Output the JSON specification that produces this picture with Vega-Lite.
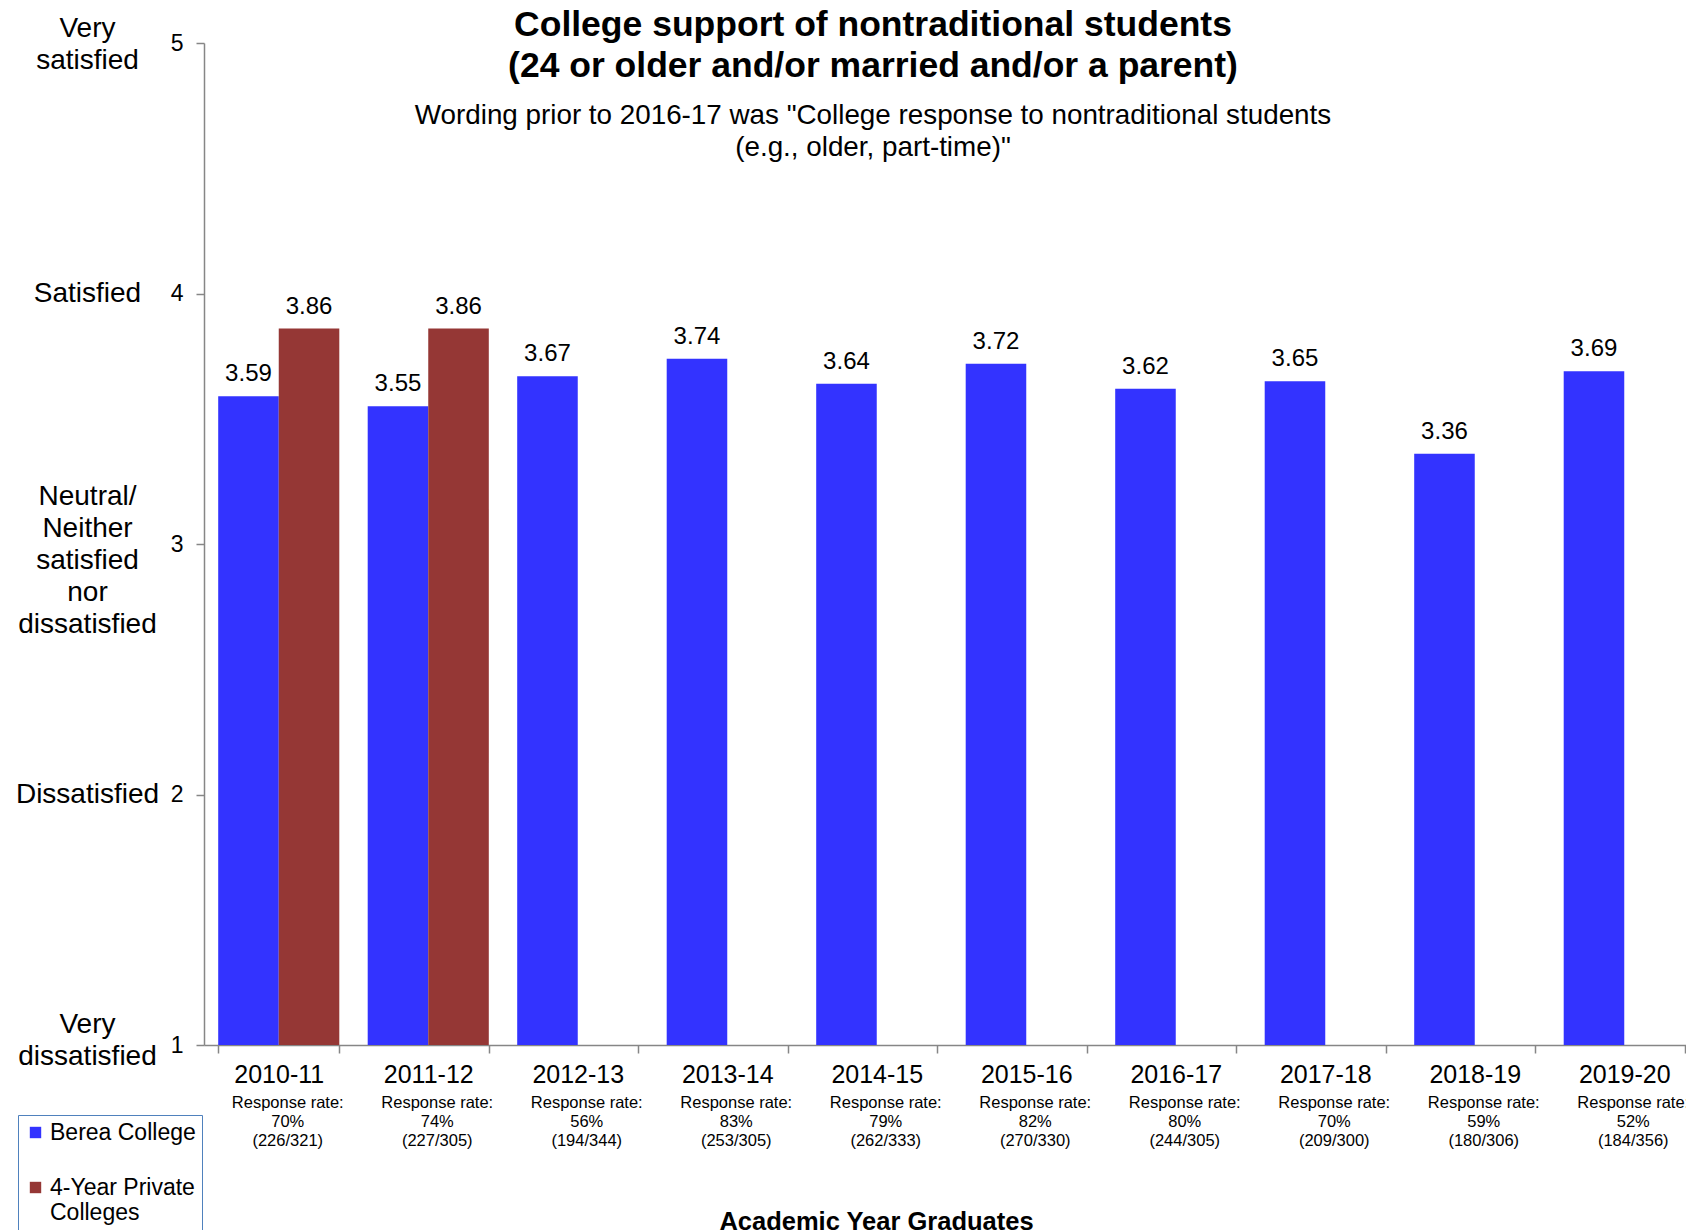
{
  "$schema": "https://vega.github.io/schema/vega-lite/v6.json",
  "width": 1482,
  "height": 1002,
  "autosize": {"type": "none"},
  "padding": {"left": 204, "top": 43, "right": 0, "bottom": 185},
  "background": "white",
  "config": {
    "font": "Liberation Sans",
    "view": {"stroke": null},
    "axis": {"grid": false}
  },
  "title": {
    "text": ["College support of nontraditional students", "(24 or older and/or married and/or a parent)"],
    "subtitle": ["Wording prior to 2016-17 was \"College response to nontraditional students", "(e.g., older, part-time)\""],
    "fontSize": 35.5,
    "fontWeight": "bold",
    "lineHeight": 41,
    "color": "black",
    "subtitleFontSize": 27.8,
    "subtitleLineHeight": 32,
    "subtitleColor": "black",
    "subtitlePadding": 18,
    "anchor": "middle",
    "dx": -72,
    "offset": -148
  },
  "datasets": {
    "scores": [
      {"Year": "2010-11", "Series": "Berea College", "Value": 3.59},
      {"Year": "2010-11", "Series": "4-Year Private Colleges", "Value": 3.86},
      {"Year": "2011-12", "Series": "Berea College", "Value": 3.55},
      {"Year": "2011-12", "Series": "4-Year Private Colleges", "Value": 3.86},
      {"Year": "2012-13", "Series": "Berea College", "Value": 3.67},
      {"Year": "2013-14", "Series": "Berea College", "Value": 3.74},
      {"Year": "2014-15", "Series": "Berea College", "Value": 3.64},
      {"Year": "2015-16", "Series": "Berea College", "Value": 3.72},
      {"Year": "2016-17", "Series": "Berea College", "Value": 3.62},
      {"Year": "2017-18", "Series": "Berea College", "Value": 3.65},
      {"Year": "2018-19", "Series": "Berea College", "Value": 3.36},
      {"Year": "2019-20", "Series": "Berea College", "Value": 3.69}
    ],
    "response": [
      {"Year": "2010-11", "Rate": "Response rate:\n70%\n(226/321)"},
      {"Year": "2011-12", "Rate": "Response rate:\n74%\n(227/305)"},
      {"Year": "2012-13", "Rate": "Response rate:\n56%\n(194/344)"},
      {"Year": "2013-14", "Rate": "Response rate:\n83%\n(253/305)"},
      {"Year": "2014-15", "Rate": "Response rate:\n79%\n(262/333)"},
      {"Year": "2015-16", "Rate": "Response rate:\n82%\n(270/330)"},
      {"Year": "2016-17", "Rate": "Response rate:\n80%\n(244/305)"},
      {"Year": "2017-18", "Rate": "Response rate:\n70%\n(209/300)"},
      {"Year": "2018-19", "Rate": "Response rate:\n59%\n(180/306)"},
      {"Year": "2019-20", "Rate": "Response rate:\n52%\n(184/356)"}
    ]
  },
  "resolve": {"scale": {"y": "independent"}, "axis": {"y": "independent"}},
  "layer": [
    {
      "data": {"name": "scores"},
      "mark": {"type": "bar"},
      "encoding": {
        "x": {
          "field": "Year", "type": "nominal", "sort": null,
          "scale": {"paddingInner": 0.19, "paddingOuter": 0.095, "range": [0, 1495]},
          "axis": {
            "labelAngle": 0, "labelFontSize": 25, "labelColor": "black", "labelPadding": 9,
            "tickBand": "extent", "tickSize": 8, "tickColor": "#868686", "domainColor": "#868686", "tickWidth": 1.5, "domainWidth": 1.5,
            "title": "Academic Year Graduates", "titleFontSize": 25.5, "titleFontWeight": "bold", "titleColor": "black",
            "titleX": 672, "titleY": 176, "titleBaseline": "middle"
          }
        },
        "xOffset": {"field": "Series", "type": "nominal", "sort": ["Berea College", "4-Year Private Colleges"], "scale": {"domain": ["Berea College", "4-Year Private Colleges"]}},
        "y": {
          "field": "Value", "type": "quantitative",
          "scale": {"domain": [1, 5], "nice": false, "zero": false},
          "axis": {
            "values": [1, 2, 3, 4, 5], "format": "d", "title": null,
            "labelFontSize": 23, "labelColor": "black", "labelPadding": 13,
            "tickSize": 8, "tickColor": "#868686", "domainColor": "#868686", "tickWidth": 1.5, "domainWidth": 1.5,
            "labelFlush": false, "labelOverlap": false
          }
        },
        "y2": {"datum": 1},
        "color": {
          "field": "Series", "type": "nominal",
          "scale": {"domain": ["Berea College", "4-Year Private Colleges"], "range": ["#3333FF", "#953735"]},
          "legend": {
            "title": null, "orient": "none", "legendX": -186, "legendY": 1072,
            "symbolType": "square", "symbolSize": 130, "symbolStrokeWidth": 0,
            "labelFontSize": 23, "labelColor": "black", "labelLimit": 300, "labelLineHeight": 27,
            "labelExpr": "datum.label == '4-Year Private Colleges' ? ['4-Year Private', 'Colleges'] : datum.label",
            "rowPadding": 31, "padding": 6, "strokeColor": "#4F81BD", "fillColor": "white",
            "labelOffset": 3
          }
        }
      }
    },
    {
      "data": {"name": "scores"},
      "mark": {"type": "text", "baseline": "bottom", "dy": -10, "fontSize": 24, "color": "black"},
      "encoding": {
        "x": {"field": "Year", "type": "nominal", "sort": null},
        "xOffset": {"field": "Series", "type": "nominal", "scale": {"domain": ["Berea College", "4-Year Private Colleges"]}},
        "y": {"field": "Value", "type": "quantitative", "scale": {"domain": [1, 5], "nice": false, "zero": false}, "axis": null},
        "text": {"field": "Value", "type": "quantitative", "format": ".2f"}
      }
    },
    {
      "data": {"name": "response"},
      "mark": {"type": "text", "baseline": "top", "fontSize": 16.5, "lineHeight": 19, "lineBreak": "\n", "color": "black", "dx": 9},
      "encoding": {
        "x": {"field": "Year", "type": "nominal", "sort": null},
        "y": {
          "datum": 0.8, "type": "quantitative",
          "scale": {"domain": [1, 5], "nice": false, "zero": false},
          "axis": {
            "orient": "left", "values": [1, 2, 3, 4, 5], "title": null,
            "ticks": false, "tickSize": 0, "domain": false,
            "labelAlign": "center", "labelPadding": 117, "labelFontSize": 28, "labelLineHeight": 32, "labelColor": "black",
            "labelFlush": false, "labelOverlap": false, "labelBound": false,
            "labelOffset": {"condition": [
              {"test": "datum.value == 5", "value": -15},
              {"test": "datum.value == 3", "value": -48},
              {"test": "datum.value == 1", "value": -21}
            ], "value": 0},
            "labelExpr": "datum.value == 5 ? ['Very', 'satisfied'] : datum.value == 4 ? 'Satisfied' : datum.value == 3 ? ['Neutral/', 'Neither', 'satisfied', 'nor', 'dissatisfied'] : datum.value == 2 ? 'Dissatisfied' : ['Very', 'dissatisfied']"
          }
        },
        "text": {"field": "Rate", "type": "nominal"}
      }
    }
  ]
}
